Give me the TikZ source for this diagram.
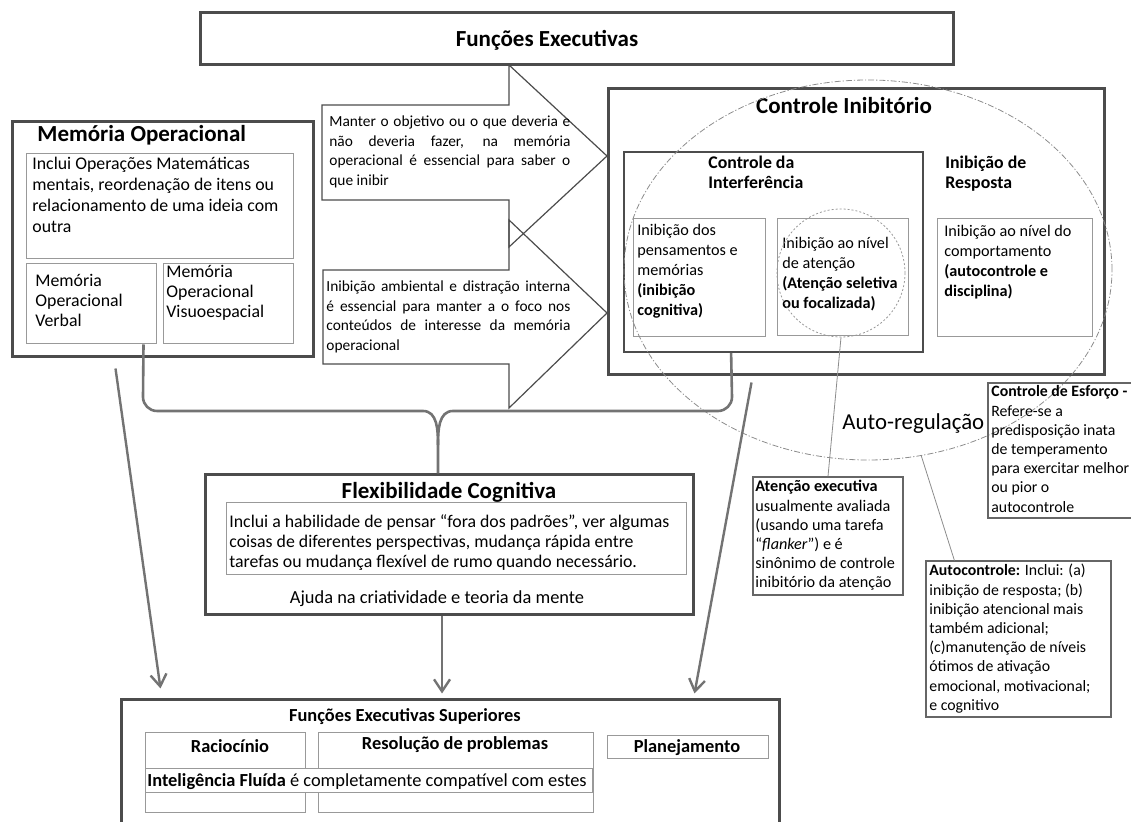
\documentclass[tikz,border=0pt]{standalone}
\usepackage{fontspec}
\setmainfont{Carlito}
\usetikzlibrary{arrows.meta,fit,shapes.geometric}

\tikzset{
  outerbox/.style={draw=black!70, line width=1.5pt, inner sep=0pt},
  midbox/.style={draw=black!70, line width=0.9pt, inner sep=0pt},
  innerbox/.style={draw=black!40, line width=0.5pt, inner sep=0pt},
  notebox/.style={draw=black!60, line width=0.6pt, inner sep=0pt},
  callout/.style={draw=black!70, line width=0.6pt},
  txt/.style={anchor=base west, inner sep=0pt, align=flush left},
  ctxt/.style={anchor=base, inner sep=0pt},
  body/.style={font=\fontsize{8.9}{10.5}\selectfont},
  small/.style={font=\fontsize{8.1}{9.9}\selectfont},
  notefont/.style={font=\fontsize{7.9}{9.6}\selectfont},
  calloutfont/.style={font=\fontsize{7.7}{9.75}\selectfont},
  ttl/.style={anchor=base, inner sep=0pt, font=\bfseries\fontsize{11.5}{13}\selectfont},
  subttl/.style={font=\bfseries\fontsize{8.9}{10}\selectfont},
  lowfont/.style={font=\fontsize{9.2}{11}\selectfont},
  brace/.style={draw=black!55, line width=1.3pt},
  flow/.style={draw=black!55, line width=1.2pt, -{Straight Barb[length=6pt,width=8pt]}},
  thinlink/.style={draw=black!45, line width=0.4pt},
}

\begin{document}
\begin{tikzpicture}[x=0.5pt,y=-0.5pt]
\useasboundingbox (0,0) rectangle (1131,822);

% top
\node (fe) [outerbox, fit={(200,13) (953,65)}] {};
\node (fetitle) [ttl] at (547,47) {Funções Executivas};

% memoria operacional
\node (mo) [outerbox, fit={(12,122) (313,357)}] {};
\node (motitle) [txt, font=\bfseries\fontsize{11.5}{13}\selectfont] at (37,142) {Memória Operacional};
\node (moinc) [innerbox, fit={(26,154) (293,259)}] {};
\node (mov) [innerbox, fit={(26,264) (156,344)}] {};
\node (movs) [innerbox, fit={(163,264) (293,344)}] {};
\node (moinctxt) [txt, body, text width=132pt] at (32,170)
  {Inclui Operações Matemáticas\\mentais, reordenação de itens ou\\relacionamento de uma ideia com\\outra};
\node (movtxt) [txt, body, text width=62pt, font=\fontsize{8.9}{10}\selectfont] at (35,287) {Memória\\Operacional\\Verbal};
\node (movstxt) [txt, body, text width=64pt, font=\fontsize{8.9}{10}\selectfont] at (166,278) {Memória\\Operacional\\Visuoespacial};

% callouts
\draw [callout] (322,105) -- (509,105) -- (509,65) -- (607,156) -- (509,247) -- (509,200) -- (322,200) -- cycle;
\node (keepgoal) [txt, calloutfont, text width=120.5pt] at (329,127)
  {\makebox[120.5pt][s]{Manter o objetivo ou o que deveria e}\\
   \makebox[120.5pt][s]{não deveria fazer, na memória}\\
   \makebox[120.5pt][s]{operacional é essencial para saber o}\\
   que inibir};
\draw [callout] (323,270) -- (509,270) -- (509,220) -- (607,313) -- (509,408) -- (509,364) -- (323,364) -- cycle;
\node (distract) [txt, calloutfont, text width=122pt] at (326,292)
  {\makebox[122pt][s]{Inibição ambiental e distração interna}\\
   \makebox[122pt][s]{é essencial para manter a o foco nos}\\
   \makebox[122pt][s]{conteúdos de interesse da memória}\\
   operacional};

% controle inibitorio
\node (ci) [outerbox, fit={(608,89) (1104,375)}] {};
\node (cititle) [ttl] at (844,114) {Controle Inibitório};
\node (cdi) [midbox, fit={(624,152) (923,352)}] {};
\node (cditxt) [txt, subttl, text width=70pt] at (708,169) {Controle da\\Interferência};
\node (irtxt) [txt, subttl, text width=70pt] at (945,169) {Inibição de\\Resposta};
\node (icog) [innerbox, fit={(633,219) (765,337)}] {};
\node (iatt) [innerbox, fit={(777,219) (908,336)}] {};
\node (icomp) [innerbox, fit={(937,219) (1092,337)}] {};
\node (icogtxt) [txt, small, text width=64pt] at (637,236)
  {Inibição dos\\pensamentos e\\memórias\\\textbf{(inibição}\\\textbf{cognitiva)}};
\node (iatttxt) [txt, small, text width=64pt] at (782,249)
  {Inibição ao nível\\de atenção\\\textbf{(Atenção seletiva}\\\textbf{ou focalizada)}};
\node (icomptxt) [txt, small, text width=76pt] at (944,237)
  {Inibição ao nível do\\comportamento\\\textbf{(autocontrole e}\\\textbf{disciplina)}};

% auto-regulacao
\node (sel) [circle, draw=black!40, line width=0.4pt, dash pattern=on 1pt off 1pt, minimum size=64pt, inner sep=0pt] at (841,273) {};
\node (autoreg) [ellipse, draw=black!45, line width=0.4pt, dash pattern=on 3pt off 1pt on 0.6pt off 1pt,
  minimum width=244pt, minimum height=190pt, inner sep=0pt] at (868,270) {};
\node (autoregtxt) [txt, font=\fontsize{11.4}{13}\selectfont] at (842,430) {Auto-regulação};

% notes
\node (ce) [notebox, fit={(988,383) (1145,518)}] {};
\node (cetxt) [txt, notefont, text width=90pt] at (991,397)
  {\textbf{Controle de Esforço -}\\Refere-se a\\predisposição inata\\de temperamento\\para exercitar melhor\\ou pior o\\autocontrole};
\node (ae) [notebox, fit={(753,477) (903,595)}] {};
\node (aetxt) [txt, text width=74pt, font=\fontsize{8.1}{9.6}\selectfont] at (755,492)
  {\textbf{Atenção executiva}\\usualmente avaliada\\(usando uma tarefa\\“\textit{flanker}”) e é\\sinônimo de controle\\inibitório da atenção};
\node (ac) [notebox, fit={(926,561) (1111,717)}] {};
\node (actxt) [txt, notefont, text width=92pt] at (929,576)
  {\textbf{Autocontrole:} Inclui: (a)\\inibição de resposta; (b)\\inibição atencional mais\\também adicional;\\(c)manutenção de níveis\\ótimos de ativação\\emocional, motivacional;\\e cognitivo};

% flexibilidade
\node (flex) [outerbox, fit={(205,475) (693,615)}] {};
\node (flextitle) [ttl] at (449,499) {Flexibilidade Cognitiva};
\node (flexin) [innerbox, fit={(226,503) (686,575)}] {};
\node (flextxt) [txt, text width=232pt, font=\fontsize{8.9}{10}\selectfont] at (229,528)
  {Inclui a habilidade de pensar “fora dos padrões”, ver algumas\\coisas de diferentes perspectivas, mudança rápida entre\\tarefas ou mudança flexível de rumo quando necessário.};
\node (flexhelp) [ctxt, lowfont] at (437,604) {Ajuda na criatividade e teoria da mente};

% superiores
\node (fes) [outerbox, fit={(121,700) (779,840)}] {};
\node (festitle) [ctxt, font=\bfseries\fontsize{9.2}{11}\selectfont] at (405,722) {Funções Executivas Superiores};
\node (rac) [innerbox, fit={(145,733) (305,813)}] {};
\node (res) [innerbox, fit={(318,733) (593,813)}] {};
\node (plan) [innerbox, fit={(607,736) (768,759)}] {};
\node (ractxt) [ctxt, font=\bfseries\fontsize{9.2}{11}\selectfont] at (230,753) {Raciocínio};
\node (restxt) [ctxt, font=\bfseries\fontsize{9.2}{11}\selectfont] at (455,750) {Resolução de problemas};
\node (plantxt) [ctxt, font=\bfseries\fontsize{9.2}{11}\selectfont] at (687,753) {Planejamento};
\node (intel) [innerbox, fill=white, fit={(145,769) (592,793)}] {};
\node (inteltxt) [txt, lowfont] at (147,787) {\textbf{Inteligência Fluída} é completamente compatível com estes};

% brace
\draw [brace] ([xshift=-6.5pt]mov.south east) -- (143,397) to[out=-90,in=180] (157,411) -- (423,411)
  to[out=0,in=90] (438,445) -- ([xshift=-5.5pt]flex.north);
\draw [brace] ([xshift=54pt]cdi.south west) -- (732,397) to[out=-90,in=0] (718,411) -- (453,411)
  to[out=180,in=90] (438,445);

% arrows
\draw [flow] ([xshift=52.5pt,yshift=-5pt]mo.south west) -- ([xshift=20.5pt,yshift=5pt]fes.north west);
\draw [flow] ([xshift=-3.5pt]flex.south) -- ([xshift=-4pt,yshift=2.5pt]fes.north);
\draw [flow] ([xshift=72.5pt,yshift=-3pt]ci.south west) -- ([xshift=-43pt,yshift=2.5pt]fes.north east);

\draw [thinlink] (sel.south) -- (ae.north);
\draw [thinlink] (autoreg.-74) -- ([xshift=14.5pt]ac.north west);
\end{tikzpicture}
\end{document}
